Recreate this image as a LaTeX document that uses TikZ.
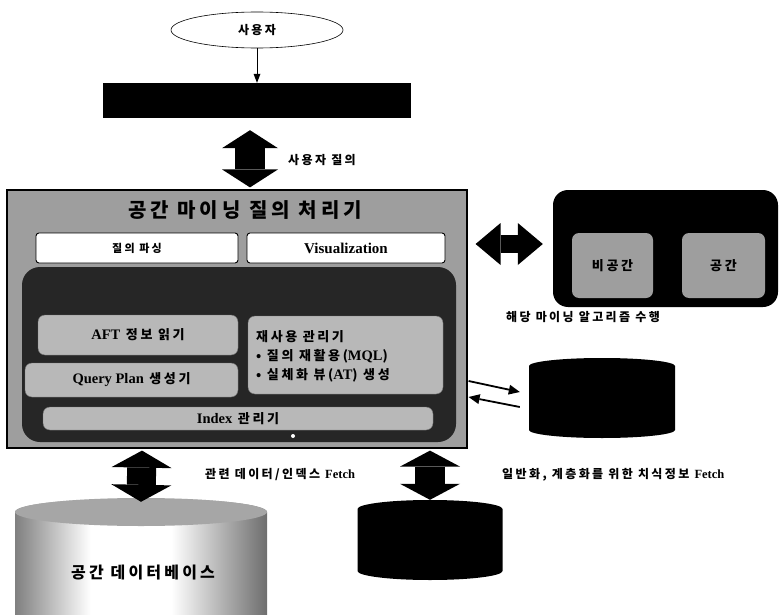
\documentclass[tikz,border=0pt]{standalone}
\usepackage{fontspec}
\setmainfont{Liberation Serif}
\newfontfamily\krf[LetterSpace=20]{Noto Sans CJK KR}
\newfontfamily\latf{Liberation Serif}
\newcommand\ltx[1]{{\latf\bfseries\fontsize{14.5}{17}\selectfont #1}}
\usetikzlibrary{arrows.meta,calc,shapes.geometric}
\pgfdeclarehorizontalshading{cylsh}{100bp}{color(0bp)=(black!92); color(22bp)=(black!60); color(40bp)=(white); color(56bp)=(white); color(76bp)=(black!60); color(100bp)=(black!92)}
\tikzset{
  box/.style={rectangle, inner sep=0pt},
  whitebox/.style={rectangle, inner sep=0pt, draw=black, line width=0.9pt, fill=white, rounded corners=3pt},
  innerbox/.style={rectangle, inner sep=0pt, fill=black!28, draw=black!55, line width=0.4pt, rounded corners=7pt},
  dblarr/.style n args={3}{line width=#1, {Triangle[length=#3,width=#2,line width=0pt]}-{Triangle[length=#3,width=#2,line width=0pt]}},
  smallarr/.style={line width=1.8pt, -{Triangle[length=11pt,width=10pt,line width=0pt]}},
  thinarr/.style={line width=0.8pt, -{Triangle[length=9pt,width=7pt,line width=0pt]}},
  tA/.style={font=\krf\bfseries\fontsize{12}{14}\selectfont, inner sep=0pt},
  tB/.style={font=\krf\bfseries\fontsize{12}{14}\selectfont, inner sep=0pt},
  tBold/.style={font=\krf\bfseries\fontsize{13}{19}\selectfont, inner sep=0pt},
}
\begin{document}
\begin{tikzpicture}[x=1pt,y=-1pt]
\useasboundingbox (0,0) rectangle (779,615);
\clip (0,0) rectangle (779,615);

% user and bar
\node[draw=black, ellipse, line width=0.6pt, fill=white, minimum width=172pt, minimum height=36pt, inner sep=0pt, tB] (user) at (257,30) {사용자};
\node[box, fill=black, minimum width=308pt, minimum height=35pt] (bar) at (257,100.5) {};
\draw[thinarr] (user) -- (bar);

% main processor
\node[box, draw=black, line width=1.2pt, fill=black!38, minimum width=460pt, minimum height=258pt] (main) at (237,319) {};
\node[font=\krf\bfseries\fontsize{20}{24}\selectfont, inner sep=0pt] (title) at (245,210) {공간 마이닝 질의 처리기};
\node[whitebox, minimum width=202pt, minimum height=30pt, font=\krf\bfseries\fontsize{11}{12}\selectfont] (parse) at (137,248) {질의 파싱};
\node[whitebox, minimum width=198pt, minimum height=30pt, font=\latf\bfseries\fontsize{15}{17}\selectfont] (vis) at (346,248) {Visualization};
\node[box, fill=black!85, rounded corners=18pt, minimum width=434pt, minimum height=175pt] (dark) at (239,354.5) {};
\node[innerbox, minimum width=200pt, minimum height=40pt, tBold] (aft) at (138,335) {\ltx{AFT} 정보 읽기};
\node[innerbox, minimum width=213pt, minimum height=34pt, tBold] (qp) at (131.5,380) {\ltx{Query Plan} 생성기};
\node[innerbox, minimum width=195pt, minimum height=78pt] (reuse) at (345.5,355) {};
\node[tBold, align=left, anchor=west] (reusetxt) at (256,356) {재사용 관리기\\• 질의 재활용(\ltx{MQL})\\• 실체화 뷰(\ltx{AT}) 생성};
\node[innerbox, minimum width=390pt, minimum height=23pt, tBold] (idx) at (238,418.5) {\ltx{Index} 관리기};
\fill[white] (293,436) circle[radius=2pt];

% right mining box
\node[box, fill=black, rounded corners=15pt, minimum width=225pt, minimum height=117pt] (rbox) at (665.5,248.5) {};
\node[innerbox, draw=none, fill=black!38, minimum width=81pt, minimum height=65pt, font=\krf\bfseries\fontsize{13}{15}\selectfont] (ns) at (612.5,265.5) {비공간};
\node[innerbox, draw=none, fill=black!38, minimum width=83pt, minimum height=65pt, font=\krf\bfseries\fontsize{13}{15}\selectfont] (sp) at (723.5,265.5) {공간};
\node[tA] (alg) at (583,317) {해당 마이닝 알고리즘 수행};

% right black cylinder
\fill[black] (529,366) -- (529,430) arc[start angle=180,end angle=360,x radius=73pt,y radius=8pt] -- (675,366) arc[start angle=0,end angle=180,x radius=73pt,y radius=8pt] -- cycle;
\node[box, minimum width=146pt, minimum height=81pt] (dbR) at (602,397.5) {};

% bottom-left spatial database cylinder
\shade[shading=cylsh] (15,512) -- (15,640) -- (267,640) -- (267,512) arc[start angle=0,end angle=180,x radius=126pt,y radius=14pt] -- cycle;
\fill[black!35] (141,512) ellipse [x radius=126pt, y radius=14pt];
\node[box, minimum width=252pt, minimum height=117pt] (dbA) at (141,556.5) {};
\node[font=\krf\bfseries\fontsize{16}{18}\selectfont, inner sep=0pt] (dbAtxt) at (143,573) {공간 데이터베이스};

% bottom small cylinder
\fill[black] (357.5,509) -- (357.5,571) arc[start angle=180,end angle=360,x radius=72.5pt,y radius=9pt] -- (502.5,509) arc[start angle=0,end angle=180,x radius=72.5pt,y radius=9pt] -- cycle;
\node[box, minimum width=145pt, minimum height=80pt] (dbB) at (430,540) {};

% big double arrows
\draw[dblarr={30pt}{56pt}{18pt}] ([xshift=-7pt,yshift=-12pt]bar.south) -- ([xshift=13pt,yshift=2pt]main.north);
\node[tB, anchor=west] (qlabel) at (288,160) {사용자 질의};
\draw[dblarr={18pt}{42pt}{25pt}] ($(main.east |- rbox.west)+(8pt,4.5pt)$) -- ($(rbox.west)+(-10pt,4.5pt)$);
\draw[dblarr={29pt}{60pt}{17pt}] ([xshift=-95pt,yshift=-2pt]main.south) -- ([yshift=-4pt]dbA.north);
\draw[dblarr={30pt}{60pt}{16pt}] ([xshift=193pt,yshift=-2pt]main.south) -- (dbB.north);

% small arrows to right cylinder
\draw[smallarr] ($(main.east)+(1pt,-62pt)$) -- ($(dbR.west)+(-9pt,5.5pt)$);
\draw[smallarr] ($(dbR.west)+(-9pt,-9.5pt)$) -- ($(main.east)+(1pt,-78pt)$);

% labels
\node[tA, anchor=west] (l1) at (205,475) {관련 데이터/인덱스 {\latf\bfseries\fontsize{12.5}{14}\selectfont Fetch}};
\node[tA, anchor=west] (l2) at (502,475) {일반화, 계층화를 위한 치식정보 {\latf\bfseries\fontsize{12.5}{14}\selectfont Fetch}};
\end{tikzpicture}
\end{document}
